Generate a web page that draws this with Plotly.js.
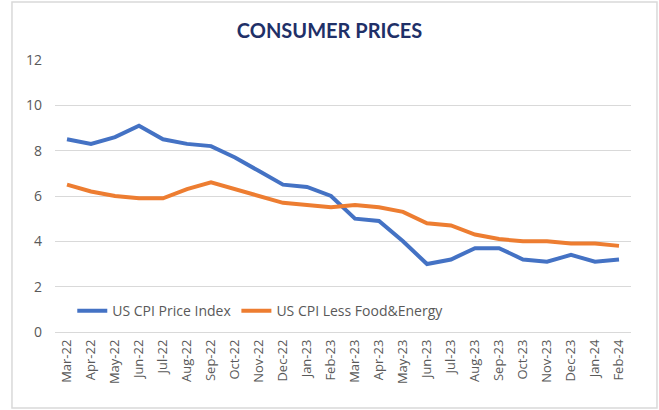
<!DOCTYPE html>
<html>
<head>
<meta charset="utf-8">
<script src="https://cdn.plot.ly/plotly-3.0.1.min.js"></script>
<style>html,body{margin:0;padding:0;background:#fff;}#chart{width:659px;height:410px;}</style>
</head>
<body>
<div id="chart"></div>
<script>
const months = ["Mar-22","Apr-22","May-22","Jun-22","Jul-22","Aug-22","Sep-22","Oct-22","Nov-22","Dec-22","Jan-23","Feb-23","Mar-23","Apr-23","May-23","Jun-23","Jul-23","Aug-23","Sep-23","Oct-23","Nov-23","Dec-23","Jan-24","Feb-24"];
const cpi = [8.5,8.3,8.6,9.1,8.5,8.3,8.2,7.7,7.1,6.5,6.4,6.0,5.0,4.9,4.0,3.0,3.2,3.7,3.7,3.2,3.1,3.4,3.1,3.2];
const core = [6.5,6.2,6.0,5.9,5.9,6.3,6.6,6.3,6.0,5.7,5.6,5.5,5.6,5.5,5.3,4.8,4.7,4.3,4.1,4.0,4.0,3.9,3.9,3.8];
const yTicks = [0,2,4,6,8,10,12];

const traces = [
  {x: months, y: cpi, type: 'scatter', mode: 'lines', name: 'US CPI Price Index',
   line: {color: '#4472C4', width: 4}},
  {x: months, y: core, type: 'scatter', mode: 'lines', name: 'US CPI Less Food&Energy',
   line: {color: '#ED7D31', width: 4}}
];

const layout = {
  width: 659, height: 410,
  margin: {l: 55, r: 28, t: 60, b: 78},
  paper_bgcolor: '#ffffff', plot_bgcolor: '#ffffff',
  font: {family: 'Open Sans, Liberation Sans, sans-serif', color: '#595959', size: 13},
  title: {text: '<b>CONSUMER PRICES</b>', x: 0.5, xanchor: 'center', y: 0.925, yanchor: 'middle',
          font: {family: 'Lato, Open Sans, sans-serif', size: 20, color: '#1F3068'}},
  xaxis: {type: 'category', range: [-0.5, months.length - 0.5], tickangle: -90, showgrid: false, zeroline: false, showline: false,
          ticks: '', ticklabelstandoff: 4, tickfont: {size: 13, color: '#595959'}, fixedrange: true},
  yaxis: {range: [0, 12], tickvals: yTicks, ticktext: yTicks.map(String), showgrid: true,
          gridcolor: '#D9D9D9', gridwidth: 1, zeroline: true, zerolinecolor: '#D9D9D9', zerolinewidth: 1,
          showline: false, ticks: '', ticklabelstandoff: 12, tickfont: {size: 14, color: '#595959'}, fixedrange: true},
  showlegend: true,
  legend: {orientation: 'h', x: 0.03, xanchor: 'left', y: 0.077, yanchor: 'middle',
           bgcolor: 'rgba(0,0,0,0)', font: {size: 14, color: '#595959'}, itemwidth: 30},
  shapes: [{type: 'rect', xref: 'paper', yref: 'paper', x0: -0.0747, x1: 1.0451, y0: -0.2794, y1: 1.2132,
            line: {color: '#D9D9D9', width: 1.5}, fillcolor: 'rgba(0,0,0,0)', layer: 'below'}]
};

Plotly.newPlot('chart', traces, layout, {displayModeBar: false, staticPlot: true});
</script>
</body>
</html>
